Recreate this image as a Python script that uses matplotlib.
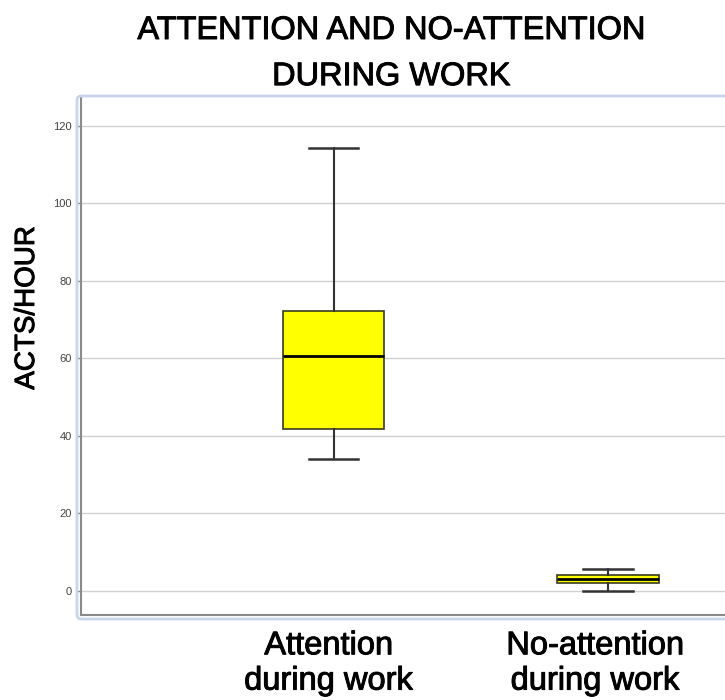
import matplotlib
matplotlib.use('Agg')
import matplotlib.pyplot as plt
import matplotlib.transforms as mtransforms
import matplotlib.patheffects as pe
from matplotlib.patches import FancyBboxPatch

plt.rcParams['font.family'] = ['Liberation Sans', 'DejaVu Sans']

# Datos del boxplot
grupos = ['Attention\nduring work', 'No-attention\nduring work']
minimos = [34.1, 0.1]
q1 = [41.8, 2.1]
medianas = [60.6, 3.1]
q3 = [72.3, 4.1]
maximos = [114.3, 5.7]
ticks_y = [0, 20, 40, 60, 80, 100, 120]

stats = []
for i in range(len(grupos)):
    stats.append({'whislo': minimos[i], 'q1': q1[i], 'med': medianas[i],
                  'q3': q3[i], 'whishi': maximos[i], 'fliers': []})

grueso = [pe.withStroke(linewidth=0.7, foreground='black')]

fig = plt.figure(figsize=(7.25, 7.0), dpi=100)
ax = fig.add_axes([81 / 725, 85 / 700, 644 / 725, 517 / 700])

# marco azul claro alrededor del area del grafico
marco = FancyBboxPatch((77 / 725, 81 / 700), 660 / 725, 523 / 700,
                       boxstyle='round,pad=0,rounding_size=0.006',
                       transform=fig.transFigure, fill=False,
                       edgecolor='#c7d5ec', linewidth=2, zorder=0)
fig.patches.append(marco)

ax.bxp(stats, positions=[1, 2], widths=0.37, capwidths=0.18,
       patch_artist=True, showfliers=False,
       boxprops=dict(facecolor='#ffff00', edgecolor='#3a3a20', linewidth=1.2),
       medianprops=dict(color='black', linewidth=2),
       whiskerprops=dict(color='#333333', linewidth=1.5),
       capprops=dict(color='#333333', linewidth=1.8))

ax.set_xlim(0.08, 2.426)
ax.set_ylim(-6.2, 127.2)
ax.set_yticks(ticks_y)
ax.set_xticks([1, 2])
ax.set_xticklabels(grupos, fontsize=23.5, linespacing=1.18)
ax.tick_params(axis='x', length=0, pad=11)
ax.tick_params(axis='y', labelsize=8, labelcolor='#444444', color='#888888', length=3, width=1)

# pequeno corrimiento a la izquierda de las etiquetas
desplazamientos = [-5, -13]
for etiqueta, dx in zip(ax.get_xticklabels(), desplazamientos):
    etiqueta.set_transform(etiqueta.get_transform() +
                           mtransforms.ScaledTranslation(dx / 100, 0, fig.dpi_scale_trans))
    etiqueta.set_path_effects(grueso)

ax.yaxis.grid(True, color='#d0d0d0', linewidth=1)
ax.set_axisbelow(True)
for lado in ['top', 'right']:
    ax.spines[lado].set_visible(False)
for lado in ['left', 'bottom']:
    ax.spines[lado].set_color('#8a8a8a')
    ax.spines[lado].set_linewidth(1.5)

fig.text(391 / 725, 1 - 16 / 700, 'ATTENTION AND NO-ATTENTION\nDURING WORK',
         ha='center', va='top', fontsize=23.4, linespacing=1.7, path_effects=grueso)
fig.text(27 / 725, 1 - 308 / 700, 'ACTS/HOUR', rotation=90,
         ha='center', va='center', fontsize=20, path_effects=grueso)

fig.savefig('out.png', dpi=100)
